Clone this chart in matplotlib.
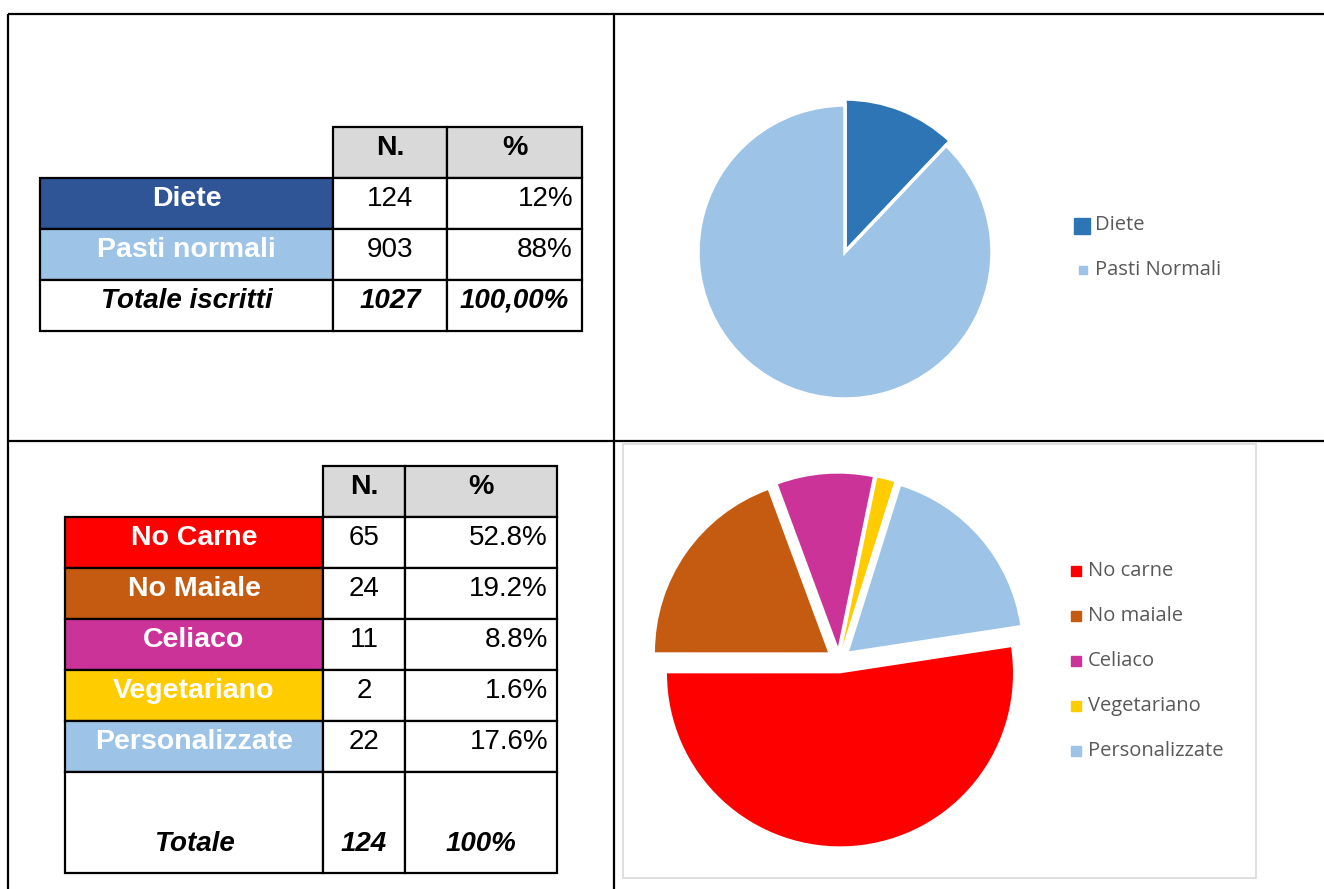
import matplotlib
matplotlib.use('Agg')
import matplotlib.pyplot as plt
from matplotlib.patches import Rectangle

# data: table 1 / pie 1
labels1 = ['Diete', 'Pasti normali']
counts1 = [124, 903]
pct1 = ['12%', '88%']
total1 = '1027'
total1_pct = '100,00%'
legend1 = ['Diete', 'Pasti Normali']
colors1_cell = ['#2F5597', '#9DC3E6']
colors1_pie = ['#2E75B6', '#9DC3E6']

# data: table 2 / pie 2
labels2 = ['No Carne', 'No Maiale', 'Celiaco', 'Vegetariano', 'Personalizzate']
counts2 = [65, 24, 11, 2, 22]
pct2 = ['52.8%', '19.2%', '8.8%', '1.6%', '17.6%']
total2 = '124'
total2_pct = '100%'
legend2 = ['No carne', 'No maiale', 'Celiaco', 'Vegetariano', 'Personalizzate']
colors2 = ['#FF0000', '#C55A11', '#CC3399', '#FFCC00', '#9DC3E6']

TFONT = 'Liberation Sans'
LFONT = 'Open Sans'
W, H = 1324, 889

fig = plt.figure(figsize=(W / 100, H / 100), dpi=100)
ax = fig.add_axes([0, 0, 1, 1])


def draw_table(ax, cols, head, rows, labels, cell_colors, counts, pcts, tot_label, tot_n, tot_pct, tot_off):
    lw = 1.6
    # header
    for i, t in enumerate(['N.', '%']):
        ax.add_patch(Rectangle((cols[i + 1], head[0]), cols[i + 2] - cols[i + 1], head[1] - head[0],
                               facecolor='#D9D9D9', edgecolor='black', lw=lw, zorder=2))
        ax.text((cols[i + 1] + cols[i + 2]) / 2, head[0] + 28, t, ha='center', va='baseline',
                fontsize=20.5, fontweight='bold', family=TFONT, zorder=3)
    n = len(labels)
    for r in range(n + 1):
        y0, y1 = rows[r], rows[r + 1]
        fc = cell_colors[r] if r < n else 'white'
        ax.add_patch(Rectangle((cols[0], y0), cols[1] - cols[0], y1 - y0,
                               facecolor=fc, edgecolor='black', lw=lw, zorder=2))
        for c in (1, 2):
            ax.add_patch(Rectangle((cols[c], y0), cols[c + 1] - cols[c], y1 - y0,
                                   facecolor='white', edgecolor='black', lw=lw, zorder=2))
        if r < n:
            yb = y0 + 28
            ax.text((cols[0] + cols[1]) / 2, yb, labels[r], ha='center', va='baseline', color='white',
                    fontsize=20.5, fontweight='bold', family=TFONT, zorder=3)
            ax.text((cols[1] + cols[2]) / 2, yb, str(counts[r]), ha='center', va='baseline',
                    fontsize=20, family=TFONT, zorder=3)
            ax.text(cols[3] - 9, yb, pcts[r], ha='right', va='baseline',
                    fontsize=20, family=TFONT, zorder=3)
        else:
            yb = y0 + tot_off
            kw = dict(ha='center', va='baseline', fontsize=20, fontweight='bold',
                      style='italic', family=TFONT, zorder=3)
            ax.text((cols[0] + cols[1]) / 2, yb, tot_label, **kw)
            ax.text((cols[1] + cols[2]) / 2, yb, tot_n, **kw)
            ax.text((cols[2] + cols[3]) / 2, yb, tot_pct, **kw)


draw_table(ax, [40, 333, 447, 582], (127, 178), [178, 229, 280, 331],
           labels1, colors1_cell, counts1, pct1, 'Totale iscritti', total1, total1_pct, 28)
draw_table(ax, [65, 323, 405, 557], (466, 517), [517, 568, 619, 670, 721, 772, 873],
           labels2, colors2, counts2, pct2, 'Totale', total2, total2_pct, 79)

# pie 1 (y axis is inverted, so counterclock=True draws clockwise on screen)
w1, _ = ax.pie(counts1, colors=colors1_pie, center=(845, 252), radius=147,
               startangle=-90, counterclock=True,
               wedgeprops=dict(edgecolor='white', linewidth=2.5))
w1[0].set_radius(153)
for w in w1:
    w.set_zorder(2)

# pie 2, every slice pulled out
w2, _ = ax.pie(counts2, colors=colors2, center=(839, 660), radius=173,
               startangle=-8.7, counterclock=True, explode=[13.4] * len(counts2),
               wedgeprops=dict(edgecolor='none'))

# legends
ax.plot(1082, 225.5, marker='s', ms=11, color=colors1_pie[0], zorder=3)
ax.plot(1082.5, 270, marker='s', ms=6, color=colors1_pie[1], zorder=3)
for i, t in enumerate(legend1):
    ax.text(1095, 225 + 45 * i, t, ha='left', va='center', fontsize=14.5,
            color='#595959', family=LFONT)
for i, t in enumerate(legend2):
    y = 571 + 45 * i
    ax.plot(1076, y, marker='s', ms=6.5, color=colors2[i], zorder=3)
    ax.text(1088, y, t, ha='left', va='center', fontsize=14.5, color='#595959', family=LFONT)

# page grid lines
lk = dict(color='black', lw=1.6, solid_capstyle='butt')
ax.plot([8, W], [14, 14], **lk)
ax.plot([8, W], [441, 441], **lk)
ax.plot([8, 8], [14, H], **lk)
ax.plot([614, 614], [14, H], **lk)
ax.add_patch(Rectangle((623, 444), 633, 434, facecolor='none', edgecolor='#D9D9D9', lw=1.2))

ax.set_xlim(0, W)
ax.set_ylim(H, 0)
ax.set_aspect('auto')
ax.axis('off')

fig.savefig('out.png', dpi=100)
